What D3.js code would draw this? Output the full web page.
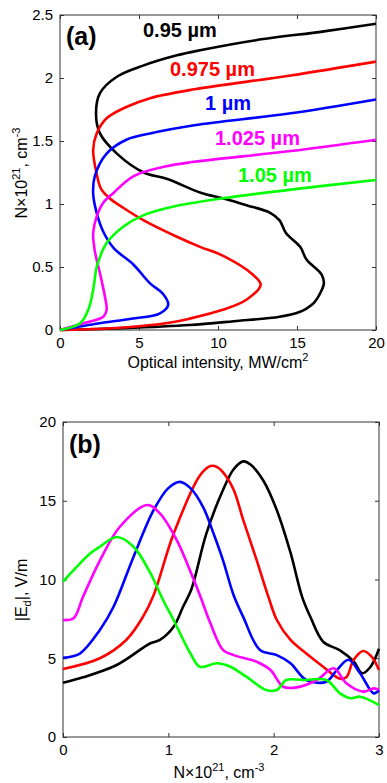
<!DOCTYPE html>
<html>
<head>
<meta charset="utf-8">
<script src="https://cdn.jsdelivr.net/npm/d3@7"></script>
<style>
  body { margin: 0; background: #fff; }
  svg { font-family: "Liberation Sans", Arial, sans-serif; }
</style>
</head>
<body>
<div id="chart"></div>
<script>
// panel (a): optical intensity (MW/cm^2) vs N (10^21 cm^-3), one curve per wavelength
var labelsA = ['0.95 µm', '0.975 µm', '1 µm', '1.025 µm', '1.05 µm'];
var colors = ['#000000', '#ff0000', '#0000ff', '#ff00ff', '#00ff00'];

var intensity095 = [0, 4, 8.2, 11, 13.9, 15.2, 15.6, 16.1, 16.46, 16.7, 16.56, 15.6, 15.2, 14.3, 13.9, 13.3, 11.8, 10.3, 8.9, 6.75, 5.3, 3.6, 2.53, 2.28, 2.53, 3.6, 5.3, 7.4, 8.86, 12.4, 16.7, 20];
var density095   = [0, 0.015, 0.04, 0.07, 0.105, 0.145, 0.17, 0.22, 0.29, 0.37, 0.44, 0.56, 0.66, 0.77, 0.87, 0.93, 0.99, 1.045, 1.09, 1.2, 1.25, 1.4, 1.56, 1.71, 1.88, 2.01, 2.1, 2.18, 2.22, 2.3, 2.37, 2.43];

var intensity0975 = [0, 3, 5, 7, 8.2, 10.3, 11.8, 12.7, 12.2, 10.3, 8.86, 7.4, 5.3, 4.0, 3.1, 2.6, 2.32, 2.1, 2.32, 2.95, 4.2, 5.7, 8.5, 14.6, 20];
var density0975   = [0, 0.012, 0.03, 0.06, 0.09, 0.16, 0.24, 0.36, 0.44, 0.59, 0.66, 0.74, 0.87, 0.97, 1.05, 1.12, 1.24, 1.43, 1.56, 1.68, 1.77, 1.84, 1.91, 2.02, 2.13];

var intensity1 = [0, 2.5, 4.5, 6.3, 6.85, 6.5, 5.7, 4.64, 3.4, 2.74, 2.32, 2.1, 2.2, 2.95, 4.2, 5.7, 8.5, 14.6, 20];
var density1   = [0, 0.053, 0.09, 0.13, 0.2, 0.29, 0.37, 0.52, 0.65, 0.78, 0.93, 1.08, 1.22, 1.4, 1.51, 1.56, 1.625, 1.72, 1.83];

var intensity1025 = [0, 1.48, 2.74, 2.95, 2.85, 2.53, 2.2, 2.1, 2.32, 2.74, 3.4, 4.64, 6.75, 8.5, 14.6, 20];
var density1025   = [0, 0.053, 0.105, 0.16, 0.26, 0.45, 0.63, 0.77, 0.9, 1.01, 1.09, 1.22, 1.3, 1.335, 1.42, 1.51];

var intensity105 = [0, 1.27, 1.79, 2.1, 2.32, 2.53, 2.95, 4.0, 5.27, 7.2, 8.5, 10.3, 15, 20];
var density105   = [0, 0.053, 0.16, 0.32, 0.5, 0.58, 0.69, 0.82, 0.91, 0.98, 1.01, 1.045, 1.12, 1.19];

// panel (b): |Ed| (V/m) vs N (10^21 cm^-3)
var nB095 = [0, 0.19, 0.51, 0.83, 0.92, 1.05, 1.14, 1.22, 1.36, 1.52, 1.62, 1.71, 1.78, 1.9, 2.03, 2.16, 2.27, 2.35, 2.47, 2.63, 2.76, 2.84, 2.92, 3.0];
var eB095 = [3.45, 3.79, 4.57, 5.95, 6.16, 7.0, 8.27, 9.4, 12.9, 15.7, 17.0, 17.5, 17.3, 16.3, 14.4, 11.7, 8.9, 7.6, 6.05, 5.5, 4.8, 4.05, 4.46, 5.6];

var nB0975 = [0, 0.35, 0.6, 0.76, 0.86, 1.05, 1.3, 1.4, 1.46, 1.52, 1.62, 1.71, 1.84, 1.95, 2.03, 2.16, 2.31, 2.47, 2.63, 2.69, 2.76, 2.85, 2.93, 3.0];
var eB0975 = [4.32, 5.0, 6.16, 7.64, 9.0, 12.9, 16.6, 17.2, 17.15, 16.8, 15.7, 13.8, 11.2, 8.9, 7.43, 6.16, 5.3, 4.46, 3.7, 3.8, 4.9, 5.46, 5.1, 4.25];

var nB1 = [0, 0.16, 0.35, 0.48, 0.67, 0.86, 1.0, 1.11, 1.21, 1.33, 1.43, 1.52, 1.62, 1.71, 1.87, 2.03, 2.16, 2.31, 2.5, 2.6, 2.71, 2.82, 2.95, 3.0];
var eB1 = [5.03, 5.3, 6.8, 8.27, 11.45, 14.4, 15.8, 16.2, 15.8, 14.6, 12.9, 11.2, 9.0, 7.64, 5.52, 5.2, 4.68, 3.62, 3.51, 4.25, 4.9, 4.05, 2.77, 2.98];

var nB1025 = [0, 0.1, 0.19, 0.35, 0.54, 0.8, 0.92, 1.08, 1.21, 1.3, 1.4, 1.52, 1.62, 1.84, 1.97, 2.09, 2.22, 2.41, 2.57, 2.69, 2.85, 2.95, 3.0];
var eB1025 = [7.43, 7.54, 8.9, 11.2, 13.35, 14.73, 14.2, 12.5, 10.5, 9.0, 7.2, 5.52, 5.2, 4.78, 4.25, 3.19, 3.15, 3.62, 4.36, 3.41, 2.88, 3.09, 3.0];

var nB105 = [0, 0.13, 0.26, 0.35, 0.51, 0.67, 0.83, 0.95, 1.05, 1.21, 1.3, 1.46, 1.59, 1.74, 1.93, 2.03, 2.12, 2.28, 2.5, 2.63, 2.73, 2.82, 3.0];
var eB105 = [9.86, 10.8, 11.66, 12.08, 12.7, 12.08, 10.4, 8.7, 7.43, 5.3, 4.46, 4.68, 4.46, 3.83, 2.98, 2.98, 3.62, 3.62, 3.62, 2.77, 2.46, 2.56, 2.03];

var ticksAx = [0, 5, 10, 15, 20];
var ticksAy = [0, 0.5, 1, 1.5, 2, 2.5];
var ticksBx = [0, 1, 2, 3];
var ticksBy = [0, 5, 10, 15, 20];

var seriesA = [
    [intensity095, density095],
    [intensity0975, density0975],
    [intensity1, density1],
    [intensity1025, density1025],
    [intensity105, density105]
];
var seriesB = [
    [nB095, eB095],
    [nB0975, eB0975],
    [nB1, eB1],
    [nB1025, eB1025],
    [nB105, eB105]
];

var svg = d3.select('#chart').append('svg')
    .attr('width', 387)
    .attr('height', 783);

function drawPanel(opts) {
    var w = opts.width, h = opts.height;
    var g = svg.append('g').attr('transform', 'translate(' + opts.left + ',' + opts.top + ')');
    var x = d3.scaleLinear().domain(opts.xDomain).range([0, w]);
    var y = d3.scaleLinear().domain(opts.yDomain).range([h, 0]);
    var fmt = d3.format('~g');

    var axes = [
        [d3.axisBottom(x).tickValues(opts.xTicks).tickFormat(fmt), 'translate(0,' + h + ')', true],
        [d3.axisTop(x).tickValues(opts.xTicks).tickFormat(''), null, false],
        [d3.axisLeft(y).tickValues(opts.yTicks).tickFormat(fmt), null, true],
        [d3.axisRight(y).tickValues(opts.yTicks).tickFormat(''), 'translate(' + w + ',0)', false]
    ];
    axes.forEach(function (a) {
        var ag = g.append('g').call(a[0].tickSizeInner(-4).tickSizeOuter(0).tickPadding(a[2] ? 7 : 0));
        if (a[1]) ag.attr('transform', a[1]);
        ag.select('.domain').remove();
        ag.selectAll('line').attr('stroke', '#333');
        ag.selectAll('text').attr('fill', '#000').style('font-size', '15px');
    });
    g.append('rect')
        .attr('width', w).attr('height', h)
        .attr('fill', 'none').attr('stroke', '#333').attr('stroke-width', 1);

    var line = d3.line()
        .x(function (d) { return x(d[0]); })
        .y(function (d) { return y(d[1]); })
        .curve(d3.curveCatmullRom.alpha(0.5));

    g.selectAll('path.curve')
        .data(opts.series)
        .enter()
        .append('path')
        .attr('class', 'curve')
        .attr('d', function (s) { return line(d3.zip(s[0], s[1])); })
        .attr('fill', 'none')
        .attr('stroke', function (d, i) { return colors[i]; })
        .attr('stroke-width', 2.6)
        .attr('stroke-linejoin', 'round');

    g.append('text')
        .attr('x', 6).attr('y', opts.tagY)
        .style('font-size', '25px').style('font-weight', 'bold')
        .text(opts.tag);
    return { g: g, x: x, y: y };
}

function supLabel(sel, parts) {
    parts.forEach(function (p) {
        sel.append('tspan')
            .attr('dy', p[1])
            .style('font-size', p[2] || null)
            .text(p[0]);
    });
}

var pa = drawPanel({
    left: 60, top: 15, width: 316, height: 315,
    xDomain: [0, 20], yDomain: [0, 2.5],
    xTicks: ticksAx, yTicks: ticksAy,
    series: seriesA, tag: '(a)', tagY: 30
});

var labelPos = [[83, 22], [110, 61], [145, 95], [155, 130], [178, 167]];
pa.g.selectAll('text.wl')
    .data(labelsA)
    .enter()
    .append('text')
    .attr('class', 'wl')
    .attr('x', function (d, i) { return labelPos[i][0]; })
    .attr('y', function (d, i) { return labelPos[i][1]; })
    .attr('fill', function (d, i) { return colors[i]; })
    .style('font-size', '20px').style('font-weight', 'bold')
    .text(function (d) { return d; });

var xla = svg.append('text').attr('x', 218).attr('y', 368).attr('text-anchor', 'middle').style('font-size', '16px');
supLabel(xla, [['Optical intensity, MW/cm', 0], ['2', -7, '11px']]);

var yla = svg.append('text').attr('transform', 'translate(27,173) rotate(-90)').attr('text-anchor', 'middle').style('font-size', '16px');
supLabel(yla, [['N×10', 0], ['21', -7, '11px'], [', cm', 7], ['-3', -7, '11px']]);

var pb = drawPanel({
    left: 63, top: 422, width: 316, height: 315,
    xDomain: [0, 3], yDomain: [0, 20],
    xTicks: ticksBx, yTicks: ticksBy,
    series: seriesB, tag: '(b)', tagY: 31
});

var xlb = svg.append('text').attr('x', 219).attr('y', 778).attr('text-anchor', 'middle').style('font-size', '16px');
supLabel(xlb, [['N×10', 0], ['21', -7, '11px'], [', cm', 7], ['-3', -7, '11px']]);

var ylb = svg.append('text').attr('transform', 'translate(27,590) rotate(-90)').attr('text-anchor', 'middle').style('font-size', '16px');
supLabel(ylb, [['|E', 0], ['d', 4, '11px'], ['|, V/m', -4]]);
</script>
</body>
</html>
